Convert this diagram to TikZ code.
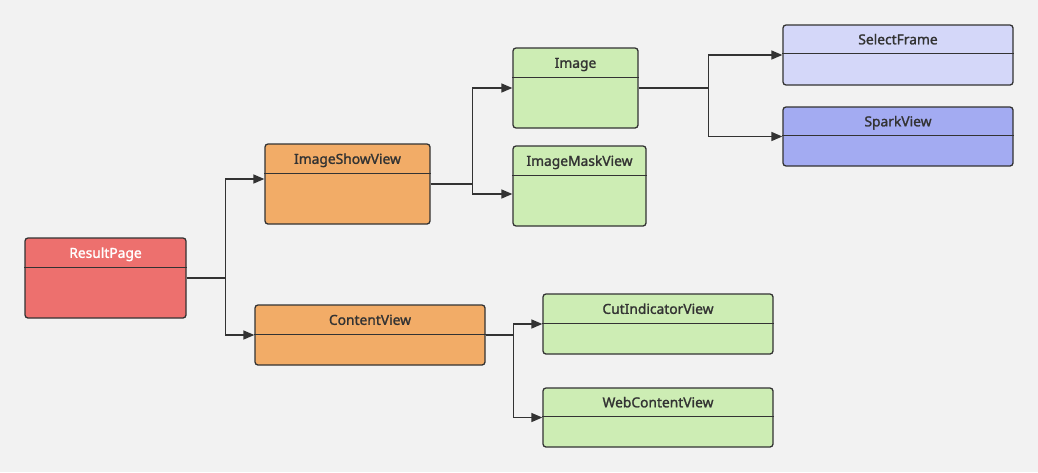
\documentclass[tikz,border=0pt]{standalone}
\usepackage{fontspec}
\setmainfont{Noto Sans}
\newfontfamily\boxfont[FakeBold=1.5]{Noto Sans}
\usetikzlibrary{arrows.meta}
\definecolor{pagebg}{HTML}{F2F2F2}
\definecolor{linegray}{HTML}{333333}
\definecolor{redbox}{HTML}{ED706E}
\definecolor{orangebox}{HTML}{F2AC67}
\definecolor{greenbox}{HTML}{CDEDB4}
\definecolor{lilacbox}{HTML}{D4D7F9}
\definecolor{bluebox}{HTML}{A3ABF2}
\begin{document}
\begin{tikzpicture}[
			x=1pt, y=-1pt,
			box/.style={draw=linegray, line width=1.3pt, rounded corners=3pt, inner sep=0pt},
			title/.style={font=\boxfont\fontsize{13.8}{16}\selectfont, text=linegray, anchor=base, inner sep=0pt},
			split/.style={draw=linegray, line width=1.3pt},
			link/.style={draw=linegray, line width=1.5pt, -{Triangle[length=11pt,width=9pt]}}
		]
		\fill[pagebg] (0,0) rectangle (1038,472);
		\useasboundingbox (0,0) rectangle (1038,472);
		% boxes
		\node[box, fill=redbox, minimum width=161pt, minimum height=80pt] (rp) at (105.5,278) {};
		\node[box, fill=orangebox, minimum width=165pt, minimum height=80pt] (isv) at (347.5,184) {};
		\node[box, fill=orangebox, minimum width=230pt, minimum height=60pt] (cv) at (370,335) {};
		\node[box, fill=greenbox, minimum width=125pt, minimum height=80pt] (img) at (575.5,88) {};
		\node[box, fill=greenbox, minimum width=133pt, minimum height=80pt] (imv) at (579.5,186) {};
		\node[box, fill=lilacbox, minimum width=230pt, minimum height=60pt] (sf) at (898,55) {};
		\node[box, fill=bluebox, minimum width=230pt, minimum height=59pt] (sv) at (898,136.5) {};
		\node[box, fill=greenbox, minimum width=230pt, minimum height=60pt] (civ) at (658,324) {};
		\node[box, fill=greenbox, minimum width=230pt, minimum height=59pt] (wcv) at (658,417.5) {};
		% header lines
		\draw[split] ([yshift=-30pt]rp.north west) -- ([yshift=-30pt]rp.north east);
		\draw[split] ([yshift=-30pt]isv.north west) -- ([yshift=-30pt]isv.north east);
		\draw[split] ([yshift=-30pt]cv.north west) -- ([yshift=-30pt]cv.north east);
		\draw[split] ([yshift=-30pt]img.north west) -- ([yshift=-30pt]img.north east);
		\draw[split] ([yshift=-30pt]imv.north west) -- ([yshift=-30pt]imv.north east);
		\draw[split] ([yshift=-29pt]sf.north west) -- ([yshift=-29pt]sf.north east);
		\draw[split] ([yshift=-29pt]sv.north west) -- ([yshift=-29pt]sv.north east);
		\draw[split] ([yshift=-30pt]civ.north west) -- ([yshift=-30pt]civ.north east);
		\draw[split] ([yshift=-29pt]wcv.north west) -- ([yshift=-29pt]wcv.north east);
		% titles
		\node[title, text=white] (rpt) at ([yshift=-20.5pt]rp.north) {ResultPage};
		\node[title] (isvt) at ([yshift=-20.5pt]isv.north) {ImageShowView};
		\node[title] (cvt) at ([yshift=-20.5pt]cv.north) {ContentView};
		\node[title] (imgt) at ([yshift=-20.5pt]img.north) {Image};
		\node[title] (imvt) at ([yshift=-20.5pt]imv.north) {ImageMaskView};
		\node[title] (sft) at ([yshift=-20pt]sf.north) {SelectFrame};
		\node[title] (svt) at ([yshift=-20pt]sv.north) {SparkView};
		\node[title] (civt) at ([yshift=-20.5pt]civ.north) {CutIndicatorView};
		\node[title] (wcvt) at ([yshift=-20pt]wcv.north) {WebContentView};
		% connectors
		\draw[link] (rp.east) -- ++(39,0) |- ([yshift=5pt]isv.west);
		\draw[link] (rp.east) -- ++(39,0) |- (cv.west);
		\draw[link] (isv.east) -- ++(42,0) |- (img.west);
		\draw[link] (isv.east) -- ++(42,0) |- ([yshift=-8pt]imv.west);
		\draw[link] (img.east) -- ++(70,0) |- (sf.west);
		\draw[link] (img.east) -- ++(70,0) |- (sv.west);
		\draw[link] (cv.east) -- ++(28,0) |- (civ.west);
		\draw[link] (cv.east) -- ++(28,0) |- (wcv.west);
	\end{tikzpicture}
\end{document}
